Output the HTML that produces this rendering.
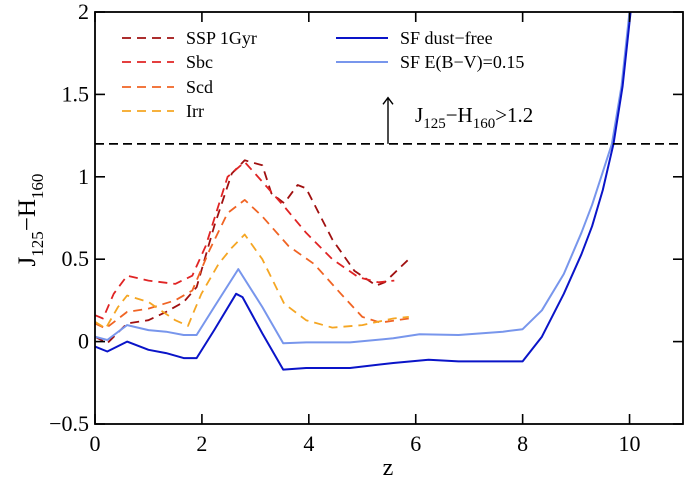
<!DOCTYPE html>
<html><head><meta charset="utf-8"><style>
body{margin:0;background:#fff}
svg text{font-family:"Liberation Serif",serif;fill:#000}
</style></head><body>
<svg id="c" width="686" height="481" viewBox="0 0 686 481" xmlns="http://www.w3.org/2000/svg"></svg>
<script>
const xTicks=[0,2,4,6,8,10];
const yTicks=[-0.5,0,0.5,1,1.5,2];
const yTickLabels=["\u22120.5","0","0.5","1","1.5","2"];
const threshold=1.2;
const ssp_z=[0,0.23,0.6,1.0,1.33,1.66,1.9,2.23,2.56,2.8,3.13,3.3,3.54,3.79,3.95,4.44,4.85,5.26,5.42,5.87];
const ssp_y=[0.03,-0.01,0.11,0.13,0.18,0.24,0.33,0.7,1.02,1.1,1.07,0.9,0.84,0.95,0.93,0.62,0.43,0.34,0.36,0.5];
const sbc_z=[0,0.15,0.35,0.6,1.0,1.5,1.82,2.07,2.48,2.8,3.13,3.54,3.95,4.44,4.93,5.3,5.6];
const sbc_y=[0.16,0.14,0.29,0.4,0.37,0.35,0.4,0.58,1.0,1.09,0.97,0.82,0.66,0.5,0.39,0.36,0.37];
const scd_z=[0,0.2,0.6,1.0,1.5,1.82,2.15,2.48,2.8,3.13,3.62,4.1,4.6,5.0,5.34,5.87];
const scd_y=[0.11,0.08,0.18,0.2,0.25,0.31,0.56,0.78,0.86,0.76,0.58,0.47,0.29,0.15,0.115,0.14];
const irr_z=[0,0.2,0.43,0.6,1.0,1.5,1.74,1.86,1.99,2.31,2.56,2.8,3.13,3.54,3.95,4.44,5.0,5.58,5.87];
const irr_y=[0.12,0.08,0.21,0.28,0.24,0.13,0.095,0.19,0.29,0.47,0.57,0.65,0.5,0.23,0.13,0.085,0.1,0.14,0.15];
const df_z=[0,0.23,0.6,1.0,1.33,1.66,1.9,2.23,2.64,2.76,3.13,3.52,3.95,4.77,5.58,6.24,6.8,7.63,8.0,8.36,8.77,9.1,9.3,9.5,9.7,9.87,10.02];
const df_y=[-0.03,-0.06,0,-0.05,-0.07,-0.1,-0.1,0.07,0.29,0.27,0.05,-0.17,-0.16,-0.16,-0.13,-0.11,-0.12,-0.12,-0.12,0.03,0.29,0.53,0.7,0.92,1.2,1.55,2.0];
const dust_z=[0,0.23,0.6,1.0,1.33,1.66,1.9,2.23,2.68,3.13,3.52,3.95,4.77,5.58,6.07,6.8,7.63,8.0,8.36,8.77,9.1,9.3,9.5,9.67,9.85,10.0];
const dust_y=[0.03,0.01,0.1,0.07,0.06,0.04,0.04,0.21,0.44,0.21,-0.01,-0.005,-0.005,0.02,0.045,0.04,0.06,0.075,0.19,0.41,0.66,0.83,1.03,1.2,1.55,2.0];

const L=95,R=683,T=12,B=424,X0=0,X1=11,Y0=-0.5,Y1=2;
const sx=v=>L+(v-X0)/(X1-X0)*(R-L);
const sy=v=>B-(v-Y0)/(Y1-Y0)*(B-T);
const svg=document.getElementById('c');
const NS='http://www.w3.org/2000/svg';
function mk(tag,attrs,parent){const e=document.createElementNS(NS,tag);for(const k in attrs)e.setAttribute(k,attrs[k]);(parent||svg).appendChild(e);return e;}

const defs=mk('clipPath',{id:'clip'});mk('rect',{x:L,y:T,width:R-L,height:B-T},defs);
const series=[
 [ssp_z,ssp_y,'#a01010',true,'series-ssp-1gyr'],
 [sbc_z,sbc_y,'#e02424',true,'series-sbc'],
 [scd_z,scd_y,'#f06424',true,'series-scd'],
 [irr_z,irr_y,'#f5a623',true,'series-irr'],
 [dust_z,dust_y,'#7896ec',false,'series-sf-ebv-015'],
 [df_z,df_y,'#0a14c8',false,'series-sf-dust-free']];
for(const [zs,ys,col,dash,name] of series){
 const p=mk('path',{d:zs.map((z,i)=>(i?'L':'M')+sx(z).toFixed(1)+','+sy(ys[i]).toFixed(1)).join(''),fill:'none',stroke:col,'stroke-width':dash?1.8:2,'stroke-dasharray':dash?'9,6':'none','stroke-linejoin':'round','clip-path':'url(#clip)'});
 
 
}
const th=mk('line',{x1:L,x2:R,y1:sy(threshold),y2:sy(threshold),stroke:'#000','stroke-width':1.7,'stroke-dasharray':'9,5'});


const ar=mk('line',{x1:388,x2:388,y1:sy(threshold),y2:sy(1.48),stroke:'#000','stroke-width':1.4});


mk('path',{d:`M383,${sy(1.44)} L388,${sy(1.48)} L393,${sy(1.44)}`,fill:'none',stroke:'#000','stroke-width':1.4});
const tl=mk('text',{x:415,y:122,'font-size':21});
tl.innerHTML='J<tspan font-size="15" dy="6">125</tspan><tspan dy="-6">\u2212H</tspan><tspan font-size="15" dy="6">160</tspan><tspan dy="-6">&gt;1.2</tspan>';



const fr=mk('rect',{x:L,y:T,width:R-L,height:B-T,fill:'none',stroke:'#000','stroke-width':1.8});


xTicks.forEach(v=>{const x=sx(v);
 mk('line',{x1:x,x2:x,y1:B,y2:B-10,stroke:'#000','stroke-width':1.6});
 mk('line',{x1:x,x2:x,y1:T,y2:T+10,stroke:'#000','stroke-width':1.6});
 const t=mk('text',{x:x,y:B+27,'text-anchor':'middle','font-size':22});t.textContent=v;
 
 
});
yTicks.forEach((v,i)=>{const y=sy(v);
 mk('line',{x1:L,x2:L+10,y1:y,y2:y,stroke:'#000','stroke-width':1.6});
 mk('line',{x1:R,x2:R-10,y1:y,y2:y,stroke:'#000','stroke-width':1.6});
 const t=mk('text',{x:L-6,y:y+7,'text-anchor':'end','font-size':22});t.textContent=yTickLabels[i];
 
 
});
const xl=mk('text',{x:388,y:475,'text-anchor':'middle','font-size':24});xl.textContent='z';


const yl=mk('text',{transform:'translate(35,220) rotate(-90)','text-anchor':'middle','font-size':25});
yl.innerHTML='J<tspan font-size="17" dy="8">125</tspan><tspan dy="-8">\u2212H</tspan><tspan font-size="17" dy="8">160</tspan>';



const legend=[['SSP 1Gyr','#a01010',true,122,38],['Sbc','#e02424',true,122,62],['Scd','#f06424',true,122,87],['Irr','#f5a623',true,122,111],
 ['SF dust\u2212free','#0a14c8',false,336,38],['SF E(B\u2212V)=0.15','#7896ec',false,336,62]];
legend.forEach(([lab,col,dash,x,y])=>{
 const g=mk('g',{});
 
 
 mk('line',{x1:x,x2:x+52,y1:y,y2:y,stroke:col,'stroke-width':dash?1.8:2,'stroke-dasharray':dash?'9,6':'none'},g);
 const t=mk('text',{x:x+64,y:y+6,'font-size':18},g);t.textContent=lab;
});
</script>
</body></html>
